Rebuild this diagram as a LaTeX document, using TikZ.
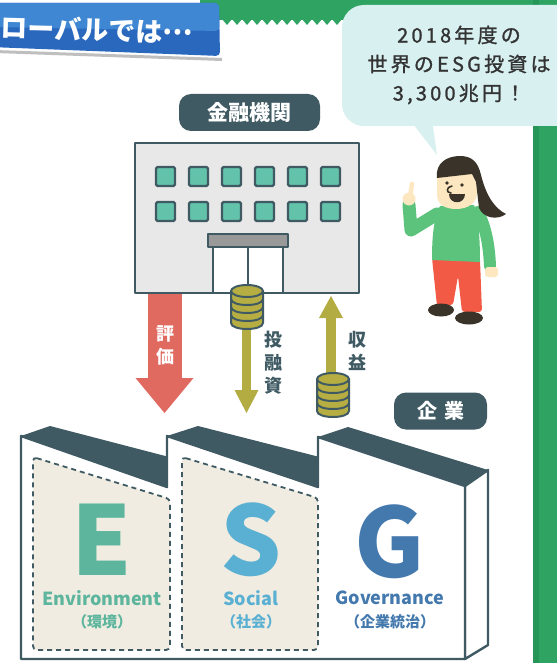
\documentclass[tikz,border=0pt]{standalone}
\usepackage{fontspec}
\setmainfont{Noto Sans CJK JP}
\newfontfamily\jpsp{Noto Sans CJK JP}[LetterSpace=16,FakeBold=1.2]
\usetikzlibrary{arrows.meta}
\definecolor{slate}{HTML}{3F5A63}
\definecolor{wall}{HTML}{E8E8E8}
\definecolor{wing}{HTML}{62C2AA}
\definecolor{coin}{HTML}{B7AE43}
\definecolor{redarr}{HTML}{E16A60}
\definecolor{olive}{HTML}{B3AC42}
\definecolor{beige}{HTML}{F0ECE1}
\definecolor{egreen}{HTML}{5CB59C}
\definecolor{sblue}{HTML}{5AB0D2}
\definecolor{gblue}{HTML}{4479AE}
\definecolor{bubble}{HTML}{D8F0F0}
\definecolor{ink}{HTML}{333333}
\definecolor{bg}{HTML}{2FA462}
\definecolor{bgdark}{HTML}{259558}
\definecolor{banlt}{HTML}{3F87D2}
\definecolor{bandk}{HTML}{2A68BE}
\definecolor{shirt}{HTML}{5BC37B}
\definecolor{pants}{HTML}{F25A45}
\definecolor{skin}{HTML}{FDE7C1}
\definecolor{hair}{HTML}{3A3329}
\newcommand{\coinstack}[2]{%
  \draw[ol,line width=2pt,fill=coin] ({#1-16},#2) -- ({#1-16},{#2+32})
    .. controls ({#1-16},{#2+40}) and ({#1+16},{#2+40}) .. ({#1+16},{#2+32}) -- ({#1+16},#2) -- cycle;
  \foreach \k in {8,16,24}
    \draw[ol,line width=2pt] ({#1-16},{#2+\k}) .. controls ({#1-16},{#2+\k+8}) and ({#1+16},{#2+\k+8}) .. ({#1+16},{#2+\k});
  \draw[ol,line width=2pt,fill=coin] (#1,#2) ellipse [x radius=16, y radius=6];}

\begin{document}
\begin{tikzpicture}[x=1pt,y=-1pt,
  ol/.style={draw=slate,line width=2.4pt,line join=round},
  win/.style={draw=slate,line width=2.2pt,fill=wing,rounded corners=1.5pt},
  tag/.style={fill=slate,text=white,rounded corners=12pt,inner sep=0pt,minimum height=37pt,
              minimum width=#1,font=\bfseries\fontsize{21}{21}\selectfont},
  flow/.style={draw=#1,line cap=butt},
  tate/.style={align=center,inner sep=0pt,font=\bfseries\fontsize{18}{23}\selectfont},
  big/.style={text=#1,inner sep=0pt,font=\bfseries\fontsize{96}{96}\selectfont},
  word/.style={text=#1,inner sep=0pt,font=\bfseries\fontsize{18}{18}\selectfont},
  kakko/.style={text=#1,inner sep=0pt,font=\bfseries\fontsize{15}{15}\selectfont},
  panel/.style={draw=slate,line width=1.8pt,dash pattern=on 5pt off 4pt,fill=beige,rounded corners=4pt}]
  \useasboundingbox (0,0) rectangle (557,663);
  \clip (0,0) rectangle (557,663);
  \fill[white] (0,0) rectangle (557,663);

  \fill[bg] (200,0) rectangle (557,20);
  \foreach \x in {222,232,...,342} \fill[bg] (\x,19) -- ({\x+10},19) -- ({\x+5},25) -- cycle;
  \fill[bg] (533,0) rectangle (557,663);
  \fill[bgdark] (533,0) rectangle (539,663);

  \fill[bubble,rounded corners=22pt] (342,5) rectangle (590,126);
  \fill[bubble] (410,120) -- (437,155) -- (432,120) -- cycle;
  \node[align=center,text=ink,font=\jpsp\fontsize{20}{29}\selectfont] (msg) at (459,65) {2018年度の\\世界のESG投資は\\3,300兆円！};

  \fill[black!25] (-5,50) -- (222,58) -- (222,61) -- (-5,53) -- cycle;
  \fill[bandk,rounded corners=4pt] (-10,3) -- (219,3) -- (220,56) -- (-10,47) -- cycle;
  \fill[banlt,rounded corners=4pt] (-10,3) -- (219,3) -- (219.5,31) -- (-10,27) -- cycle;
  \node[anchor=west,inner sep=0pt,text=white,rotate=-1.5,font=\bfseries\fontsize{27}{27}\selectfont] (ban) at (1,27) {ローバルでは\raisebox{7pt}{…}};

  % bank
  \node[tag=141pt] (fi) at (249.5,112.5) {金融機関};
  \coordinate (r0) at (164.5,294);
  \coordinate (r1) at (164.5,413);
  \draw[flow=redarr,line width=34pt,-{Triangle[width=58pt,length=35pt,line width=0pt]}] (r0) -- (r1);
  \draw[ol,fill=wall] (135,143) rectangle (359,293);
  \foreach \i in {0,...,5} \foreach \j in {0,1}
    \draw[win] ({156+33*\i},{167+35*\j}) rectangle ++(19,19);
  \draw[ol,line width=2pt,fill=white] (213,247) rectangle (283,293);
  \draw[ol,line width=2pt] (248,247) -- (248,293);
  \draw[ol,line width=2pt,fill=black!40] (208,234) rectangle (288,247);

  \coordinate (i0) at (246.5,320);
  \coordinate (i1) at (246.5,413);
  \draw[flow=olive,line width=9pt,-{Triangle[width=24pt,length=23pt,line width=0pt]}] (i0) -- (i1);
  \coinstack{247}{291}
  \coordinate (p0) at (331,385);
  \coordinate (p1) at (331,296);
  \draw[flow=olive,line width=10pt,-{Triangle[width=24pt,length=22pt,line width=0pt]}] (p0) -- (p1);
  \coinstack{333}{379}

  \node[tate,text=white] (ev) at (165,345.5) {評\\価};
  \node[tate,text=slate] (inv) at (273,363) {投\\融\\資};
  \node[tate,text=slate] (ret) at (357,351) {収\\益};

  % factory
  \node[tag=93pt,font=\bfseries\fontsize{20}{20}\selectfont] (co) at (440.5,411) {企\hspace{7pt}業};
  \fill[slate] (21,436) -- (50,426) -- (196,464) -- (167,487) -- cycle;
  \fill[slate] (167,436) -- (198,426) -- (347,464) -- (318,487) -- cycle;
  \fill[slate] (318,437) -- (348,427) -- (488,470) -- (465,486) -- cycle;
  \draw[ol,fill=white] (465,486) -- (488,470) -- (488,645) -- (465,659) -- cycle;
  \draw[ol,fill=white] (21,436) -- (167,487) -- (167,436) -- (318,487) -- (318,437) -- (465,486)
    -- (465,659) -- (21,659) -- cycle;
  \draw[panel] (33,457) -- (170,499) -- (170,650) -- (33,650) -- cycle;
  \draw[panel] (182,457) -- (318,498) -- (318,650) -- (182,650) -- cycle;

  \node[big=egreen] (e) at (102,540) {E};
  \node[big=sblue] (s) at (251,540) {S};
  \node[big=gblue] (g) at (390,542) {G};
  \node[word=egreen] (ew) at (102,598) {Environment};
  \node[word=sblue] (sw) at (251,598) {Social};
  \node[word=gblue] (gw) at (390,598) {Governance};
  \node[kakko=egreen] (ej) at (102,622) {（環境）};
  \node[kakko=sblue] (sj) at (251,622) {（社会）};
  \node[kakko=gblue] (gj) at (390,622) {（企業統治）};

  % girl
  \draw[shirt,line width=12pt,line cap=round] (478,212) .. controls (486,228) and (489,245) .. (490,266);
  \fill[skin,rounded corners=3pt] (485,267) rectangle (498,277);
  \draw[shirt,line width=13pt,line cap=round,line join=round] (437,214) -- (411,230) -- (409,205);
  \draw[skin,line width=4.5pt,line cap=round] (410,197) -- (412,184);
  \fill[skin] (409,199) circle (6.5);
  \fill[pants,rounded corners=3pt] (432,258) -- (480,260) -- (482,312) -- (462,312) -- (458,276) -- (453,305) -- (437,306) -- cycle;
  \fill[hair] (441,310) ellipse [x radius=13, y radius=6.5];
  \fill[hair] (469,318) ellipse [x radius=14, y radius=6.5];
  \fill[shirt] (440,206) -- (474,205) .. controls (478,215) and (480,235) .. (480,262) -- (432,260)
    .. controls (432,240) and (433,220) .. (440,206) -- cycle;
  \fill[skin] (437,172) -- (437,195) .. controls (437,205) and (446,209) .. (456,209)
    .. controls (468,209) and (477,203) .. (477,193) -- (476,172) -- cycle;
  \fill[hair] (437,178) .. controls (435,163) and (447,156) .. (460,156) .. controls (472,156) and (478,162) .. (481,175)
    .. controls (486,195) and (494,208) .. (506,214) .. controls (498,220) and (484,219) .. (479,208) -- (476,182) -- (472,174) -- cycle;
  \fill[hair] (447,183) circle (1.9);
  \fill[hair] (462,185) circle (1.9);
  \draw[hair,line width=1.6pt,line cap=round] (452,186) .. controls (446,187) and (446,193) .. (451,193);
  \fill[hair] (449,194) -- (465,194) .. controls (465,205) and (449,205) .. (449,194) -- cycle;
\end{tikzpicture}
\end{document}
